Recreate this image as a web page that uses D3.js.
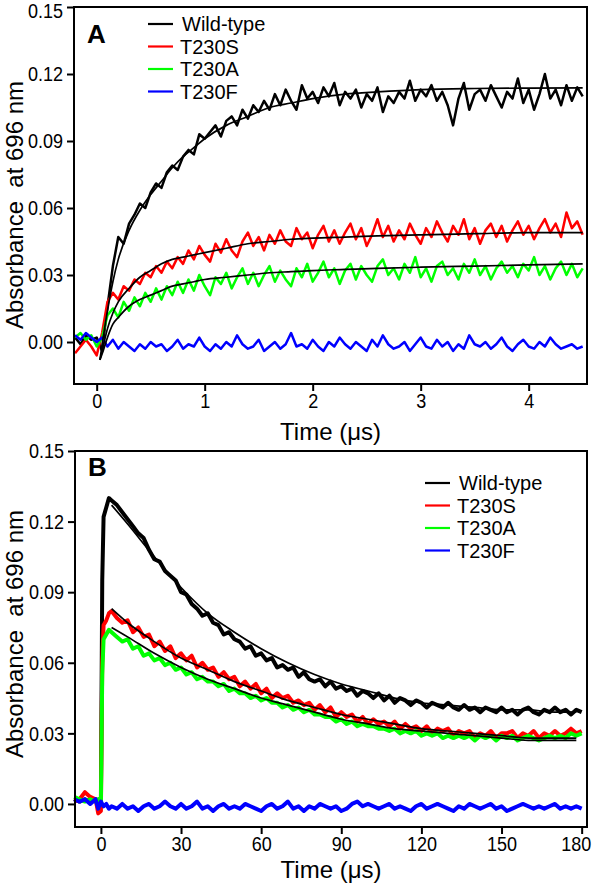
<!DOCTYPE html>
<html><head><meta charset="utf-8">
<script src="https://cdn.jsdelivr.net/npm/d3@7"></script>
<style>body{margin:0;background:#fff} text{font-family:"Liberation Sans",Arial,Helvetica,sans-serif;fill:#000}</style>
</head><body><svg id="c" width="594" height="883"></svg>
<script>
// ---------- data ----------
const seriesNames = ["Wild-type", "T230S", "T230A", "T230F"];
const seriesColors = ["#000000", "#ff0000", "#00ff00", "#0000ff"];

// Panel A: sampling grid in µs (-0.2 .. 4.5, every 0.05)
const timeA = d3.range(95).map(i => -0.2 + i * 0.05);
const wtA = [0.002,-0.001,0.003,0.001,0.002,-0.004,0.016,0.034,0.047,0.044,
 0.053,0.057,0.062,0.060,0.067,0.071,0.069,0.076,0.079,0.077,
 0.083,0.086,0.084,0.093,0.091,0.094,0.097,0.092,0.099,0.101,
 0.097,0.104,0.100,0.106,0.103,0.108,0.104,0.111,0.106,0.113,
 0.108,0.104,0.115,0.109,0.112,0.107,0.114,0.110,0.116,0.106,
 0.112,0.109,0.113,0.105,0.111,0.108,0.114,0.103,0.110,0.107,
 0.112,0.109,0.117,0.108,0.113,0.110,0.115,0.108,0.112,0.106,
 0.097,0.109,0.116,0.104,0.111,0.113,0.108,0.115,0.110,0.105,
 0.112,0.109,0.118,0.107,0.113,0.104,0.111,0.120,0.109,0.113,
 0.106,0.115,0.108,0.114,0.110];
const redA = [-0.005,-0.002,0.001,-0.002,-0.006,0.004,0.018,0.022,0.019,0.025,
 0.023,0.028,0.026,0.031,0.029,0.034,0.031,0.036,0.033,0.038,
 0.035,0.041,0.037,0.043,0.039,0.036,0.044,0.040,0.046,0.041,
 0.038,0.045,0.049,0.043,0.047,0.041,0.048,0.044,0.050,0.045,
 0.043,0.051,0.046,0.049,0.042,0.048,0.052,0.045,0.050,0.044,
 0.049,0.053,0.046,0.051,0.043,0.048,0.055,0.047,0.052,0.045,
 0.050,0.046,0.053,0.048,0.044,0.051,0.047,0.054,0.049,0.045,
 0.052,0.048,0.055,0.046,0.051,0.044,0.050,0.053,0.047,0.052,
 0.045,0.050,0.054,0.048,0.052,0.046,0.051,0.055,0.049,0.053,
 0.047,0.058,0.051,0.054,0.048];
const greenA = [0.002,0.004,0.001,0.003,-0.002,0.002,0.012,0.015,0.011,0.018,
 0.014,0.020,0.016,0.022,0.018,0.024,0.019,0.025,0.021,0.027,
 0.022,0.028,0.023,0.030,0.025,0.021,0.029,0.026,0.031,0.024,
 0.029,0.033,0.026,0.031,0.025,0.030,0.034,0.027,0.032,0.028,
 0.025,0.033,0.029,0.035,0.027,0.031,0.036,0.029,0.033,0.026,
 0.032,0.035,0.028,0.034,0.030,0.027,0.034,0.037,0.030,0.033,
 0.028,0.035,0.031,0.038,0.029,0.033,0.027,0.034,0.036,0.030,
 0.033,0.028,0.035,0.031,0.037,0.030,0.034,0.028,0.033,0.036,
 0.031,0.034,0.029,0.035,0.032,0.038,0.030,0.034,0.028,0.033,
 0.036,0.030,0.035,0.029,0.033];
const blueA = [0.003,0.001,0.004,0.002,0.000,0.002,-0.002,0.001,-0.003,0.000,
 -0.002,-0.004,-0.001,-0.003,0.000,-0.002,-0.001,-0.004,-0.002,0.001,
 -0.003,-0.001,-0.002,0.002,-0.002,-0.004,-0.001,-0.003,0.000,-0.002,
 0.003,-0.001,-0.003,-0.002,0.001,-0.004,-0.002,0.000,-0.003,-0.001,
 0.004,-0.002,-0.001,-0.003,0.001,-0.002,-0.004,0.000,-0.002,0.002,
 -0.001,-0.003,0.000,-0.002,-0.004,0.001,-0.002,0.003,-0.001,-0.003,
 -0.002,0.000,-0.004,-0.001,0.002,-0.002,-0.003,0.001,-0.002,0.000,
 -0.004,-0.001,-0.003,0.003,-0.001,-0.002,0.000,-0.003,-0.001,0.002,
 -0.002,-0.004,-0.001,0.001,-0.002,-0.003,0.000,-0.002,0.002,-0.001,
 -0.003,-0.002,-0.001,-0.003,-0.002];
const fitTimeA = [0.03,0.06,0.1,0.15,0.2,0.3,0.4,0.5,0.6,0.7,0.8,0.9,1.0,1.2,1.4,1.6,1.8,2.0,2.3,2.6,3.0,3.5,4.0,4.5];
const wtFitA = [-0.008,0.002,0.014,0.027,0.037,0.050,0.059,0.066,0.072,0.078,0.083,0.087,0.091,0.097,0.101,0.105,0.107,0.109,0.111,0.112,0.113,0.1135,0.1137,0.1138];
const redFitA = [-0.008,-0.002,0.006,0.013,0.018,0.024,0.029,0.032,0.035,0.037,0.038,0.039,0.040,0.042,0.044,0.045,0.046,0.0465,0.047,0.0475,0.048,0.0485,0.049,0.049];
const greenFitA = [-0.008,-0.004,0.002,0.008,0.011,0.016,0.019,0.021,0.023,0.025,0.026,0.027,0.028,0.029,0.030,0.031,0.0315,0.032,0.0325,0.033,0.0335,0.034,0.0345,0.035];

// Panel B: sampling grid in µs
const timeB = [-10,-8,-6,-4,-2,-1,0,0.5,1,2,3].concat(d3.range(4, 181, 2));
const wtB = [0.002,0.001,0.002,0.001,0.002,0.000,0.001,0.095,0.122,0.126,0.130,
 0.129,0.127,0.124,0.121,0.118,0.115,0.113,0.108,0.104,0.103,
 0.099,0.097,0.095,0.090,0.089,0.085,0.083,0.080,0.081,0.077,
 0.076,0.072,0.073,0.070,0.069,0.066,0.067,0.063,0.064,0.061,
 0.062,0.058,0.059,0.057,0.058,0.054,0.056,0.053,0.052,0.053,
 0.050,0.052,0.049,0.050,0.048,0.049,0.046,0.048,0.047,0.045,
 0.047,0.044,0.046,0.043,0.045,0.044,0.042,0.044,0.043,0.041,
 0.043,0.042,0.041,0.043,0.041,0.040,0.042,0.040,0.041,0.039,
 0.041,0.040,0.039,0.041,0.039,0.040,0.038,0.040,0.041,0.039,
 0.038,0.040,0.039,0.041,0.039,0.040,0.038,0.040,0.039];
const redB = [0.001,0.002,0.005,0.003,0.002,-0.004,-0.003,0.060,0.076,0.078,0.081,
 0.082,0.079,0.077,0.078,0.073,0.075,0.071,0.072,0.067,0.069,
 0.065,0.067,0.062,0.064,0.061,0.063,0.058,0.060,0.057,0.058,
 0.054,0.056,0.053,0.054,0.050,0.052,0.049,0.051,0.047,0.049,
 0.045,0.047,0.045,0.046,0.043,0.044,0.042,0.043,0.040,0.042,
 0.039,0.041,0.037,0.039,0.037,0.038,0.035,0.037,0.034,0.036,
 0.034,0.035,0.033,0.035,0.032,0.034,0.032,0.033,0.031,0.033,
 0.030,0.032,0.031,0.032,0.029,0.031,0.030,0.031,0.028,0.030,
 0.029,0.031,0.028,0.030,0.030,0.031,0.028,0.030,0.029,0.031,
 0.028,0.030,0.029,0.031,0.029,0.030,0.032,0.030,0.031];
const greenB = [0.003,0.002,0.001,0.002,0.001,0.002,0.000,0.055,0.070,0.072,0.074,
 0.073,0.071,0.069,0.070,0.066,0.067,0.063,0.064,0.061,0.062,
 0.059,0.060,0.057,0.058,0.055,0.056,0.053,0.054,0.052,0.052,
 0.050,0.051,0.048,0.049,0.047,0.047,0.045,0.046,0.044,0.045,
 0.043,0.043,0.041,0.042,0.040,0.041,0.039,0.040,0.038,0.038,
 0.037,0.037,0.035,0.036,0.034,0.035,0.033,0.034,0.033,0.033,
 0.032,0.032,0.031,0.032,0.030,0.031,0.030,0.031,0.029,0.030,
 0.029,0.030,0.028,0.029,0.028,0.029,0.028,0.029,0.027,0.029,
 0.028,0.029,0.027,0.029,0.028,0.029,0.027,0.028,0.029,0.028,
 0.027,0.028,0.029,0.028,0.029,0.028,0.030,0.029,0.030];
const blueB = [0.002,0.001,0.002,0.000,0.002,-0.002,0.001,0.000,-0.001,0.000,-0.002,
 -0.001,-0.002,0.000,-0.002,-0.001,-0.003,-0.001,0.000,-0.002,-0.001,
 0.001,-0.001,-0.002,0.000,-0.002,-0.001,0.001,-0.002,-0.001,-0.003,
 -0.001,0.000,-0.002,-0.001,-0.002,0.000,-0.001,-0.002,-0.003,-0.001,
 0.000,-0.002,-0.001,0.001,-0.002,-0.001,-0.003,-0.001,-0.002,0.000,
 -0.001,-0.002,-0.001,-0.003,-0.002,0.000,0.001,-0.001,0.000,-0.001,
 -0.002,-0.001,0.000,-0.002,-0.001,-0.002,-0.003,-0.001,0.000,-0.002,
 -0.001,0.000,-0.001,-0.002,-0.003,-0.001,-0.002,0.000,-0.001,-0.002,
 -0.001,0.000,-0.002,-0.001,-0.003,-0.002,-0.001,0.000,-0.001,-0.002,
 -0.001,-0.002,-0.001,0.000,-0.002,-0.001,-0.002,-0.001,-0.002];
const fitTimeB = [4,10,20,30,40,50,60,70,80,90,100,110,120,130,140,150,160,170,178];
const wtFitB = [0.127,0.119,0.105,0.092,0.081,0.073,0.066,0.060,0.055,0.051,0.048,0.045,0.043,0.042,0.041,0.040,0.040,0.039,0.039];
const redFitB = [0.083,0.077,0.069,0.062,0.057,0.052,0.048,0.044,0.041,0.038,0.036,0.034,0.032,0.031,0.030,0.029,0.028,0.028,0.028];
const greenFitB = [0.075,0.071,0.064,0.058,0.053,0.049,0.045,0.042,0.039,0.036,0.034,0.032,0.031,0.030,0.029,0.028,0.027,0.027,0.027];

const yTicks = [0, 0.03, 0.06, 0.09, 0.12, 0.15];
const xTicksA = [0, 1, 2, 3, 4];
const xTicksB = [0, 30, 60, 90, 120, 150, 180];

// ---------- drawing ----------
const svg = d3.select("#c");
const FONT = '"Liberation Sans",Arial,sans-serif';
const STRETCH = 1.16;

function panel(cfg) {
  const x = d3.scaleLinear().domain(cfg.xDomain).range([cfg.left, cfg.right]);
  const y = d3.scaleLinear().domain(cfg.yDomain).range([cfg.bottom, cfg.top]);
  const g = svg.append("g");
  const line = d3.line().x(d => x(d[0])).y(d => y(d[1]));
  const fitLine = d3.line().x(d => x(d[0])).y(d => y(d[1])).curve(d3.curveMonotoneX);

  cfg.series.forEach((s, i) => {
    g.append("path").datum(cfg.time.map((t, k) => [t, s[k]]))
      .attr("d", line).attr("fill", "none").attr("stroke", seriesColors[i])
      .attr("stroke-width", cfg.lw).attr("stroke-linejoin", "round");
  });
  cfg.fits.forEach(f => {
    g.append("path").datum(cfg.fitTime.map((t, k) => [t, f[k]]))
      .attr("d", fitLine).attr("fill", "none").attr("stroke", "#000").attr("stroke-width", 1.7);
  });

  g.append("rect").attr("x", cfg.left).attr("y", cfg.top)
    .attr("width", cfg.right - cfg.left).attr("height", cfg.bottom - cfg.top)
    .attr("fill", "none").attr("stroke", "#000").attr("stroke-width", 2);

  const ya = g.append("g").attr("transform", `translate(${cfg.left},0)`)
    .call(d3.axisLeft(y).tickValues(yTicks).tickFormat(d3.format(".2f")).tickSize(7).tickPadding(4));
  const xa = g.append("g").attr("transform", `translate(0,${cfg.bottom})`)
    .call(d3.axisBottom(x).tickValues(cfg.xTicks).tickFormat(d3.format("d")).tickSize(7).tickPadding(0.5));
  [ya, xa].forEach(a => {
    a.select(".domain").remove();
    a.selectAll(".tick line").attr("stroke", "#000").attr("stroke-width", 2);
    a.selectAll(".tick text").attr("font-size", 18).attr("fill", "#000")
      .attr("font-family", FONT).attr("transform", `scale(1,${STRETCH})`);
  });
  if (cfg.topLabelShift) ya.selectAll(".tick text").filter(d => d === 0.15).attr("y", cfg.topLabelShift);
  xa.selectAll(".tick text").filter(d => d === 180).attr("x", -6);

  g.append("text").attr("transform", `translate(23,${cfg.ylabCenter}) rotate(-90)`)
    .attr("text-anchor", "middle").attr("font-size", 24).style("white-space", "pre")
    .text("Absorbance  at 696 nm");
  g.append("text").attr("x", (cfg.left + cfg.right) / 2).attr("y", cfg.xlabY)
    .attr("text-anchor", "middle").attr("font-size", 24).text("Time (\u03bcs)");
  g.append("text").attr("x", cfg.left + 13).attr("y", cfg.letterY)
    .attr("font-size", 26).attr("font-weight", "bold").text(cfg.letter);

  const lg = g.append("g");
  seriesNames.forEach((n, i) => {
    const yy = cfg.legY + i * 22.5;
    lg.append("line").attr("x1", cfg.legX).attr("x2", cfg.legX + 25).attr("y1", yy).attr("y2", yy)
      .attr("stroke", seriesColors[i]).attr("stroke-width", 2.2);
    lg.append("text").attr("x", cfg.legX + (i === 0 ? 34 : 32)).attr("y", yy + 7)
      .attr("font-size", 20).text(n);
  });
}

panel({
  left: 74, right: 587, top: 7, bottom: 384,
  xDomain: [-0.21, 4.54], yDomain: [-0.0188, 0.15],
  time: timeA, series: [wtA, redA, greenA, blueA], lw: 2.5,
  fitTime: fitTimeA, fits: [wtFitA, redFitA, greenFitA],
  xTicks: xTicksA, ylabCenter: 205, xlabY: 440, letter: "A", letterY: 43,
  legX: 148, legY: 24, topLabelShift: 3.5
});
panel({
  left: 75, right: 587, top: 451, bottom: 827,
  xDomain: [-9.7, 182], yDomain: [-0.0098, 0.15],
  time: timeB, series: [wtB, redB, greenB, blueB], lw: 4,
  fitTime: fitTimeB, fits: [wtFitB, redFitB, greenFitB],
  xTicks: xTicksB, ylabCenter: 634, xlabY: 878, letter: "B", letterY: 476,
  legX: 425, legY: 483
});
</script></body></html>
